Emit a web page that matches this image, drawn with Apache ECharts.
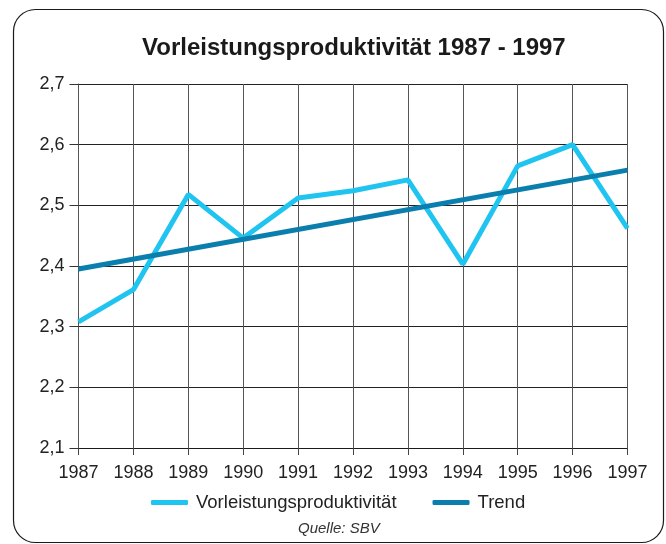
<!DOCTYPE html>
<html>
<head>
<meta charset="utf-8">
<script src="https://cdn.jsdelivr.net/npm/echarts@6/dist/echarts.min.js"></script>
<style>
  html, body { margin: 0; padding: 0; background: #ffffff; }
  #chart { width: 666px; height: 544px; }
</style>
</head>
<body>
<div id="chart"></div>
<script>
// Jahre (Kategorien der x-Achse)
const years = ['1987', '1988', '1989', '1990', '1991', '1992', '1993', '1994', '1995', '1996', '1997'];
// Vorleistungsproduktivität je Jahr
const productivity = [2.308, 2.361, 2.518, 2.446, 2.512, 2.524, 2.542, 2.403, 2.565, 2.600, 2.462];
// Lineare Trendlinie: Anfangs- und Endwert
const trendStart = 2.395;
const trendEnd = 2.558;
// Skala der y-Achse
const yMin = 2.1, yMax = 2.7, yStep = 0.1;

const trend = years.map((y, i) => i === 0 ? trendStart : (i === years.length - 1 ? trendEnd : null));

const colLight = '#20c4f0';
const colDark = '#0a7fae';
const font = '"Liberation Sans", Arial, sans-serif';

const chart = echarts.init(document.getElementById('chart'), null, { renderer: 'canvas' });
chart.setOption({
  animation: false,
  backgroundColor: '#ffffff',
  graphic: [
    {
      type: 'rect',
      shape: { x: 13.5, y: 9.5, width: 650, height: 533, r: 22 },
      style: { fill: 'none', stroke: '#1a1a1a', lineWidth: 1.2 },
      z: -1
    },
    {
      type: 'text',
      left: 298,
      top: 521,
      style: { text: 'Quelle: SBV', font: 'italic 15px ' + font, fill: '#333333' }
    }
  ],
  title: {
    text: 'Vorleistungsproduktivität 1987 - 1997',
    left: 137,
    top: 31,
    textStyle: { fontFamily: font, fontSize: 24, fontWeight: 'bold', color: '#1a1a1a' }
  },
  legend: {
    top: 488,
    left: 146,
    itemWidth: 37,
    itemHeight: 5,
    itemGap: 36,
    icon: 'roundRect',
    textStyle: { fontFamily: font, fontSize: 18.5, color: '#222222', padding: [0, 0, 0, 3] },
    data: ['Vorleistungsproduktivität', 'Trend']
  },
  grid: { left: 78.5, right: 38.5, top: 84, bottom: 96 },
  xAxis: {
    type: 'category',
    data: years,
    boundaryGap: false,
    axisLine: { show: true, lineStyle: { color: '#1a1a1a', width: 1 } },
    axisTick: { show: true, length: 7, alignWithLabel: true, lineStyle: { color: '#444444' } },
    axisLabel: { fontFamily: font, fontSize: 18, color: '#222222', margin: 16 },
    splitLine: { show: true, lineStyle: { color: '#555555', width: 1 } }
  },
  yAxis: {
    type: 'value',
    min: yMin,
    max: yMax,
    interval: yStep,
    axisLine: { show: true, lineStyle: { color: '#555555', width: 1 } },
    axisTick: { show: true, length: 9, lineStyle: { color: '#333333' } },
    axisLabel: {
      fontFamily: font, fontSize: 18, color: '#222222', margin: 14,
      formatter: v => v.toFixed(1).replace('.', ',')
    },
    splitLine: { show: true, lineStyle: { color: '#222222', width: 1 } }
  },
  series: [
    {
      name: 'Vorleistungsproduktivität',
      type: 'line',
      data: productivity,
      symbol: 'none',
      lineStyle: { color: colLight, width: 5 },
      itemStyle: { color: colLight },
      z: 3
    },
    {
      name: 'Trend',
      type: 'line',
      data: trend,
      connectNulls: true,
      symbol: 'none',
      lineStyle: { color: colDark, width: 5 },
      itemStyle: { color: colDark },
      z: 4
    }
  ]
});
</script>
</body>
</html>
